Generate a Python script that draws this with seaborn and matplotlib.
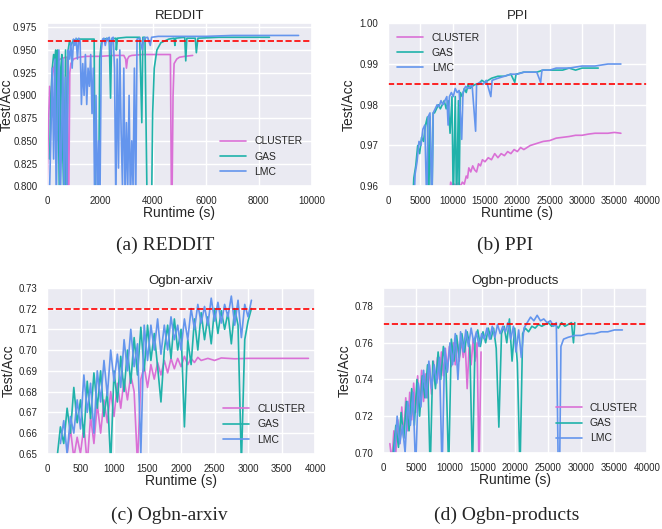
import numpy as np
import matplotlib
matplotlib.use("Agg")
import matplotlib.pyplot as plt
import seaborn as sns

# colours
C_CLUSTER = "#DA70D6"
C_GAS = "#20B2AA"
C_LMC = "#6495ED"

# -------- REDDIT --------
reddit_cluster_t = [0, 50, 100, 150, 200, 250, 300, 400, 500, 600, 700, 760, 790, 820, 860, 900, 1000,
                    1200, 1500, 2000, 2500, 2900, 2970, 3000, 3040, 3100, 3200, 3600, 4000, 4500, 4660,
                    4700, 4720, 4760, 4800, 4900, 5000, 5200, 5500]
reddit_cluster_v = [0.80, 0.86, 0.91, 0.88, 0.92, 0.93, 0.935, 0.938, 0.940, 0.941, 0.942, 0.942, 0.78,
                    0.78, 0.925, 0.935, 0.940, 0.942, 0.943, 0.943, 0.944, 0.944, 0.940, 0.930, 0.940,
                    0.943, 0.944, 0.945, 0.945, 0.945, 0.945, 0.78, 0.78, 0.90, 0.935, 0.940, 0.942,
                    0.943, 0.944]
reddit_gas_t = [100, 150, 200, 250, 300, 330, 360, 400, 430, 470, 520, 560, 600, 640, 700, 730, 760, 800,
                850, 900, 1000, 1200, 1500, 1780, 1820, 1950, 1990, 2050, 2150, 2350, 2400, 2440, 2600,
                2620, 2660, 3000, 3500, 3580, 3620, 3700, 3740, 3780, 3950, 3990, 4050, 4150, 4300, 4600,
                4800, 4830, 4860, 5200, 5240, 5280, 5600, 5640, 5700, 6500, 7500, 8400]
reddit_gas_v = [0.83, 0.90, 0.93, 0.945, 0.94, 0.95, 0.85, 0.95, 0.88, 0.78, 0.93, 0.945, 0.83, 0.78,
                0.95, 0.78, 0.87, 0.95, 0.96, 0.955, 0.961, 0.962, 0.962, 0.962, 0.78, 0.78, 0.94,
                0.958, 0.962, 0.963, 0.897, 0.962, 0.963, 0.95, 0.963, 0.964, 0.964, 0.87, 0.964,
                0.964, 0.87, 0.78, 0.78, 0.88, 0.93, 0.95, 0.958, 0.962, 0.963, 0.955, 0.963, 0.964,
                0.938, 0.963, 0.963, 0.947, 0.963, 0.964, 0.964, 0.964]
reddit_lmc_t = list(range(100, 3450, 50)) + [3500, 3600, 3650, 3800, 3900, 3950, 4200, 5000, 6000,
                                             7000, 8000, 9000, 9500]
reddit_lmc_v = [0.80, 0.86, 0.93, 0.83, 0.94, 0.78, 0.90, 0.95, 0.78, 0.85, 0.94, 0.78, 0.92, 0.80,
                0.95, 0.94, 0.958, 0.93, 0.962, 0.955, 0.963, 0.94, 0.963, 0.96, 0.89, 0.935, 0.90,
                0.945, 0.89, 0.93, 0.91, 0.945, 0.88, 0.93, 0.78, 0.90, 0.78, 0.85, 0.78, 0.95, 0.962,
                0.963, 0.955, 0.963, 0.96, 0.964, 0.945, 0.963, 0.964, 0.93, 0.78, 0.94, 0.82, 0.95,
                0.86, 0.80, 0.93, 0.78, 0.87, 0.80, 0.90, 0.78, 0.85, 0.80, 0.93, 0.78, 0.962,
                0.963, 0.95, 0.963, 0.964, 0.955, 0.964, 0.965, 0.965, 0.965, 0.966, 0.966, 0.966, 0.966]

# -------- PPI --------
ppi_cluster_t = [9500, 9700, 10000, 10300, 10600, 10900, 11200, 11500, 11800, 12100, 12300, 12500,
                 12800, 13100, 13400, 13700, 14000, 14300, 14600, 15000, 15500, 16000, 16500, 17000,
                 17500, 18000, 18500, 19000, 19500, 20000, 20500, 21000, 22000, 23000, 24000, 25000,
                 26000, 27000, 28000, 29000, 30000, 31000, 32000, 33000, 34000, 35000, 36000]
ppi_cluster_v = [0.958, 0.961, 0.960, 0.9605, 0.960, 0.9608, 0.960, 0.961, 0.9605, 0.9625, 0.962,
                 0.9645, 0.9635, 0.965, 0.964, 0.9635, 0.9655, 0.965, 0.9665, 0.966, 0.967, 0.9665,
                 0.968, 0.967, 0.968, 0.9675, 0.9685, 0.968, 0.969, 0.9685, 0.9695, 0.969, 0.970,
                 0.9705, 0.971, 0.9712, 0.9718, 0.972, 0.9722, 0.9725, 0.9725, 0.9728, 0.973, 0.973,
                 0.973, 0.9732, 0.973]
ppi_gas_t = [3800, 4000, 4300, 4600, 4900, 5200, 5500, 5800, 6100, 6300, 6500, 6800, 7000, 7200, 7500,
             7800, 8100, 8400, 8700, 9000, 9300, 9600, 9900, 10100, 10400, 10600, 10900, 11000, 11200,
             11500, 11800, 12100, 12400, 12700, 13000, 13500, 14000, 14500, 15000, 15500, 16000,
             17000, 18000, 19000, 19600, 19800, 21000, 22000, 23000, 24000, 25000, 26000, 27000,
             28000, 29000, 30000, 31000, 32500]
ppi_gas_v = [0.955, 0.962, 0.965, 0.970, 0.968, 0.972, 0.971, 0.975, 0.977, 0.955, 0.977, 0.955,
             0.978, 0.978, 0.979, 0.980, 0.979, 0.980, 0.981, 0.979, 0.981, 0.973, 0.982, 0.955,
             0.982, 0.955, 0.981, 0.958, 0.983, 0.982, 0.984, 0.983, 0.985, 0.984, 0.9845, 0.985,
             0.985, 0.986, 0.9855, 0.986, 0.9865, 0.987, 0.987, 0.9875, 0.9855, 0.9875, 0.988,
             0.988, 0.988, 0.9885, 0.9885, 0.9885, 0.9885, 0.989, 0.9885, 0.989, 0.989, 0.989]
ppi_lmc_t = [4000, 4200, 4500, 4800, 5100, 5400, 5700, 6000, 6200, 6500, 6780, 7000, 7300, 7600, 7900,
             8200, 8500, 8800, 9100, 9300, 9500, 9800, 10100, 10400, 10700, 11000, 11400, 11600,
             12000, 12500, 13000, 13550, 13700, 14200, 14700, 15200, 15900, 16100, 17000, 18000,
             19000, 20000, 21000, 22000, 23000, 23600, 23800, 25000, 26000, 27000, 28000, 30000,
             32000, 34000, 36000]
ppi_lmc_v = [0.955, 0.963, 0.966, 0.971, 0.970, 0.974, 0.975, 0.955, 0.977, 0.978, 0.955, 0.978,
             0.979, 0.980, 0.9795, 0.981, 0.980, 0.981, 0.982, 0.975, 0.982, 0.983, 0.982, 0.984,
             0.983, 0.9835, 0.9715, 0.983, 0.9845, 0.984, 0.985, 0.9735, 0.985, 0.9855, 0.985,
             0.986, 0.982, 0.986, 0.9865, 0.987, 0.9875, 0.9875, 0.988, 0.988, 0.988, 0.9855,
             0.9885, 0.9885, 0.989, 0.989, 0.989, 0.9895, 0.9895, 0.990, 0.990]

# -------- Ogbn-arxiv --------
arxiv_gas_t = list(range(150, 3100, 50))
arxiv_gas_v = [0.648, 0.663, 0.655, 0.672, 0.660, 0.682, 0.665, 0.676, 0.658, 0.685, 0.667, 0.689,
               0.672, 0.690, 0.668, 0.680, 0.645, 0.690, 0.675, 0.697, 0.680, 0.700, 0.684, 0.706,
               0.688, 0.711, 0.690, 0.712, 0.695, 0.708, 0.692, 0.675, 0.700, 0.712, 0.696, 0.715,
               0.700, 0.710, 0.663, 0.705, 0.693, 0.715, 0.700, 0.718, 0.705, 0.716, 0.703, 0.720,
               0.708, 0.719, 0.710, 0.718, 0.703, 0.720, 0.712, 0.645, 0.705, 0.714, 0.720]
arxiv_lmc_t = list(range(200, 3100, 50))
arxiv_lmc_v = [0.655, 0.666, 0.650, 0.668, 0.660, 0.676, 0.662, 0.688, 0.670, 0.684, 0.660, 0.690,
               0.675, 0.695, 0.678, 0.700, 0.685, 0.698, 0.682, 0.705, 0.690, 0.710, 0.692, 0.703,
               0.650, 0.712, 0.695, 0.712, 0.700, 0.715, 0.698, 0.712, 0.700, 0.716, 0.705, 0.712,
               0.700, 0.715, 0.705, 0.720, 0.710, 0.722, 0.713, 0.721, 0.712, 0.725, 0.714, 0.723,
               0.713, 0.722, 0.716, 0.726, 0.712, 0.724, 0.706, 0.722, 0.716, 0.724]
arxiv_cluster_t = list(range(300, 2350, 50)) + [2400, 2500, 2600, 2800, 3000, 3300, 3600, 3900]
arxiv_cluster_v = [0.650, 0.662, 0.648, 0.658, 0.650, 0.664, 0.645, 0.668, 0.655, 0.674, 0.660, 0.676,
                   0.665, 0.680, 0.668, 0.684, 0.672, 0.686, 0.676, 0.688, 0.680, 0.645, 0.686, 0.692,
                   0.682, 0.693, 0.686, 0.694, 0.688, 0.695, 0.689, 0.696, 0.691, 0.696, 0.692, 0.697,
                   0.693, 0.696, 0.694, 0.6965, 0.695,
                   0.696, 0.695, 0.6962, 0.6958, 0.696, 0.696, 0.696, 0.696]

# -------- Ogbn-products --------
prod_cluster_t = list(range(1000, 15000, 300))
prod_cluster_v = [0.705, 0.695, 0.712, 0.700, 0.718, 0.705, 0.725, 0.708, 0.730, 0.712, 0.733, 0.718,
                  0.738, 0.722, 0.742, 0.726, 0.745, 0.728, 0.743, 0.730, 0.748, 0.732, 0.750, 0.737,
                  0.752, 0.740, 0.755, 0.742, 0.757, 0.745, 0.758, 0.747, 0.760, 0.748, 0.761, 0.750,
                  0.762, 0.752, 0.760, 0.735, 0.758, 0.748, 0.762, 0.750, 0.760, 0.690, 0.755]
prod_gas_t = list(range(1500, 21500, 400)) + [21500, 22000, 22500, 23000, 23500, 24000, 24500, 25000,
                                              25500, 26000, 26500, 27000, 27500, 28000, 28500, 28800,
                                              29000]
prod_gas_v = [0.700, 0.715, 0.703, 0.722, 0.708, 0.728, 0.712, 0.735, 0.715, 0.740, 0.720, 0.742,
              0.730, 0.748, 0.690, 0.750, 0.735, 0.755, 0.740, 0.758, 0.745, 0.690, 0.762, 0.750,
              0.764, 0.752, 0.765, 0.755, 0.766, 0.758, 0.690, 0.762, 0.767, 0.758, 0.766, 0.760,
              0.768, 0.762, 0.768, 0.757, 0.714, 0.765, 0.769, 0.760, 0.773, 0.750, 0.768, 0.749,
              0.690, 0.765,
              0.768, 0.766, 0.769, 0.768, 0.770, 0.769, 0.770, 0.771, 0.769, 0.770, 0.768, 0.771,
              0.769, 0.770, 0.771, 0.760, 0.771]
prod_lmc_t = list(range(1700, 21700, 400)) + [21800, 22300, 22800, 23300, 23800, 24300, 24800, 25300,
                                              25800, 26200, 26500, 26700, 26900, 27300, 28000, 29000,
                                              30000, 31000, 32000, 33000, 34000, 35000, 36200]
prod_lmc_v = [0.700, 0.720, 0.705, 0.715, 0.700, 0.728, 0.715, 0.733, 0.690, 0.738, 0.725, 0.745,
              0.730, 0.750, 0.735, 0.748, 0.738, 0.752, 0.690, 0.757, 0.744, 0.760, 0.748, 0.765,
              0.740, 0.766, 0.755, 0.767, 0.758, 0.768, 0.760, 0.766, 0.758, 0.765, 0.762, 0.768,
              0.762, 0.769, 0.763, 0.770, 0.765, 0.769, 0.766, 0.771, 0.762, 0.769, 0.755, 0.767,
              0.752, 0.768,
              0.771, 0.774, 0.772, 0.775, 0.772, 0.773, 0.771, 0.772, 0.769, 0.771, 0.690, 0.690,
              0.758, 0.762, 0.763, 0.764, 0.764, 0.765, 0.765, 0.766, 0.766, 0.767, 0.767]

sns.set_theme(style="darkgrid")
plt.rcParams["font.family"] = ["Liberation Sans", "DejaVu Sans"]

fig = plt.figure(figsize=(6.62, 5.29), dpi=100)
ax_a = fig.add_axes([0.071, 0.648, 0.400, 0.309])
ax_b = fig.add_axes([0.586, 0.648, 0.391, 0.308])
ax_c = fig.add_axes([0.071, 0.142, 0.405, 0.314])
ax_d = fig.add_axes([0.579, 0.144, 0.399, 0.312])


def draw(ax, series, title, xlim, xticks, ylim, yticks, yfmt, ref, loc, ylab_x):
    for t, v, c, name in series:
        sns.lineplot(x=t, y=v, ax=ax, color=c, label=name, lw=1.2,
                     estimator=None, sort=False)
    ax.axhline(ref, color="red", ls="--", lw=1.2)
    ax.set_xlim(*xlim)
    ax.set_ylim(*ylim)
    ax.set_xticks(xticks)
    ax.set_yticks(yticks)
    ax.set_yticklabels([yfmt.format(y) for y in yticks])
    ax.tick_params(labelsize=7, pad=1)
    ax.set_title(title, fontsize=9.5, pad=3)
    ax.set_xlabel("Runtime (s)", fontsize=10, labelpad=0)
    ax.set_ylabel("Test/Acc", fontsize=10)
    ax.yaxis.set_label_coords(ylab_x, 0.5)
    ax.legend(loc=loc, fontsize=7.5, frameon=False, handlelength=2.5)


draw(ax_a, [(reddit_cluster_t, reddit_cluster_v, C_CLUSTER, "CLUSTER"),
            (reddit_gas_t, reddit_gas_v, C_GAS, "GAS"),
            (reddit_lmc_t, reddit_lmc_v, C_LMC, "LMC")],
     "REDDIT", (0, 10000), range(0, 10001, 2000), (0.8, 0.98),
     [0.8, 0.825, 0.85, 0.875, 0.9, 0.925, 0.95, 0.975], "{:.3f}", 0.96, "lower right", -0.125)

draw(ax_b, [(ppi_cluster_t, ppi_cluster_v, C_CLUSTER, "CLUSTER"),
            (ppi_gas_t, ppi_gas_v, C_GAS, "GAS"),
            (ppi_lmc_t, ppi_lmc_v, C_LMC, "LMC")],
     "PPI", (0, 40000), range(0, 40001, 5000), (0.96, 1.0),
     [0.96, 0.97, 0.98, 0.99, 1.0], "{:.2f}", 0.985, "upper left", -0.125)

draw(ax_c, [(arxiv_cluster_t, arxiv_cluster_v, C_CLUSTER, "CLUSTER"),
            (arxiv_gas_t, arxiv_gas_v, C_GAS, "GAS"),
            (arxiv_lmc_t, arxiv_lmc_v, C_LMC, "LMC")],
     "Ogbn-arxiv", (0, 4000), range(0, 4001, 500), (0.65, 0.73),
     [0.65, 0.66, 0.67, 0.68, 0.69, 0.70, 0.71, 0.72, 0.73], "{:.2f}", 0.72, "lower right", -0.115)

draw(ax_d, [(prod_cluster_t, prod_cluster_v, C_CLUSTER, "CLUSTER"),
            (prod_gas_t, prod_gas_v, C_GAS, "GAS"),
            (prod_lmc_t, prod_lmc_v, C_LMC, "LMC")],
     "Ogbn-products", (0, 40000), range(0, 40001, 5000), (0.70, 0.79),
     [0.70, 0.72, 0.74, 0.76, 0.78], "{:.2f}", 0.77, "lower right", -0.12)

# captions under each panel
cap = dict(fontsize=14, family="Liberation Serif", ha="center", va="center")
fig.text(165 / 662, 1 - 245 / 529, "(a) REDDIT", **cap)
fig.text(505 / 662, 1 - 245 / 529, "(b) PPI", **cap)
fig.text(169 / 662, 1 - 515 / 529, "(c) Ogbn-arxiv", **cap)
fig.text(507 / 662, 1 - 515 / 529, "(d) Ogbn-products", **cap)

fig.savefig("out.png", dpi=100)
plt.close(fig)
